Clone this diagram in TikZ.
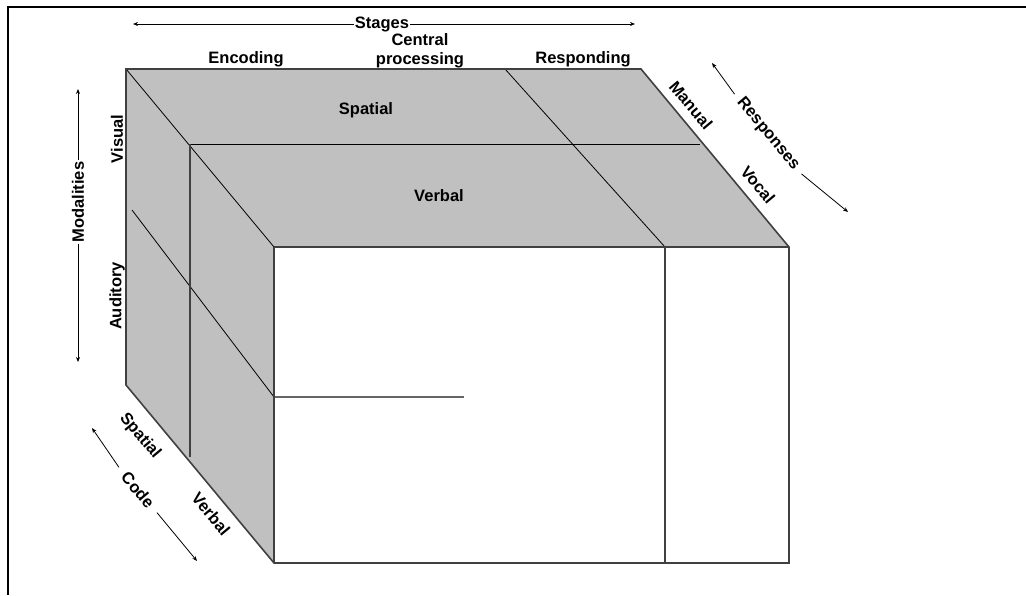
\documentclass[tikz,border=0pt]{standalone}
\usepackage{fontspec}
\setmainfont{Liberation Sans}
\usetikzlibrary{arrows.meta}
\definecolor{facegray}{HTML}{C0C0C0}
\definecolor{edgegray}{HTML}{404040}
\begin{document}
\begin{tikzpicture}[x=1pt,y=-1pt,
  lbl/.style={font=\fontsize{16.5}{19}\selectfont\bfseries, inner sep=1pt},
  edgeline/.style={draw=edgegray, line width=1.6pt, line join=miter},
  thinline/.style={draw=black, line width=0.8pt},
  arr/.style={line width=0.8pt, -{Stealth[length=5pt,width=4pt]}}]
\useasboundingbox (0,0) rectangle (1026,595);
% frame
\draw[line width=2.5pt] (1026,7) -- (8,7) -- (8,595);
% faces
\fill[facegray] (126,69) -- (641,69) -- (789,247) -- (274,247) -- cycle;
\fill[facegray] (126,69) -- (274,247) -- (274,563) -- (126,385) -- cycle;
% interior lines
\draw[thinline] (126,69) -- (274,247);
\draw[thinline] (190,144) -- (700,144);
\draw[thinline] (505,69) -- (665,247);
\draw[thinline] (132,210) -- (274,397);
\draw[edgeline, line width=1.2pt] (190,144) -- (190,457);
\draw[edgeline, line width=1.2pt] (665,247) -- (665,563);
\draw[edgeline, draw=black!60, line width=1.2pt] (274,397) -- (464,397);
% outer edges
\draw[edgeline] (126,385) -- (126,69) -- (641,69) -- (789,247) -- (789,563) -- (274,563) -- cycle;
\draw[edgeline] (274,247) -- (789,247);
\draw[edgeline] (274,247) -- (274,563);
% labels
\node[lbl] (stages) at (382,24) {Stages};
\draw[arr] (stages.west) -- (133,24);
\draw[arr] (stages.east) -- (635,24);
\node[lbl] (enc) at (246,59) {Encoding};
\node[lbl, align=center] (cen) at (420,51) {Central\\processing};
\node[lbl] (resp) at (583,59) {Responding};
\node[lbl] (spt) at (366,110) {Spatial};
\node[lbl] (vbt) at (439,196) {Verbal};
\node[lbl, rotate=-50] (man) at (691,105) {Manual};
\node[lbl, rotate=-50] (voc) at (758,185) {Vocal};
\node[lbl, rotate=-50, outer xsep=7pt] (rsp) at (768,134) {Responses};
\coordinate (r1) at (712,63);
\coordinate (r2) at (848,212);
\draw[arr] (rsp.west) -- (r1);
\draw[arr] (rsp.east) -- (r2);
\node[lbl, rotate=90] (mod) at (78,202) {Modalities};
\draw[arr] (mod.east) -- (78,89);
\draw[arr] (mod.west) -- (78,362);
\node[lbl, rotate=90] (vis) at (117,139) {Visual};
\node[lbl, rotate=90] (aud) at (117,296) {Auditory};
\node[lbl, rotate=-50] (spb) at (140,436) {Spatial};
\node[lbl, rotate=-50, outer xsep=8pt] (code) at (138,490) {Code};
\node[lbl, rotate=-50] (vbb) at (211,514) {Verbal};
\coordinate (c1) at (92,428);
\coordinate (c2) at (197,561);
\draw[arr] (code.west) -- (c1);
\draw[arr] (code.east) -- (c2);
\end{tikzpicture}
\end{document}
